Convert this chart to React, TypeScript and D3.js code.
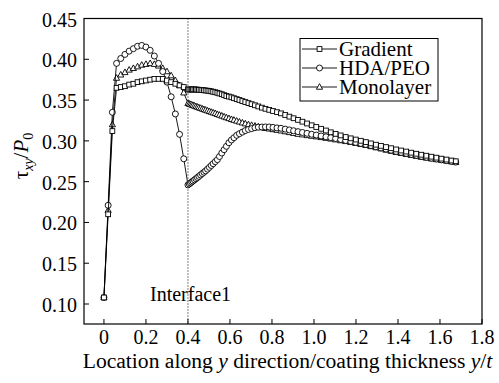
import React from 'react';
import * as d3 from 'd3';

// ---------- data ----------
const xInner = [0, 0.02, 0.04, 0.06, 0.08, 0.1, 0.12, 0.14, 0.16, 0.18, 0.2, 0.22, 0.24, 0.26, 0.28, 0.3, 0.32, 0.34, 0.36, 0.38];
const xOuter = [
  0.4, 0.406, 0.412, 0.418, 0.424, 0.431, 0.438, 0.445, 0.452, 0.46, 0.468, 0.476, 0.484, 0.493, 0.502, 0.511,
  0.52, 0.53, 0.54, 0.55, 0.561, 0.572, 0.583, 0.595, 0.607, 0.619, 0.632, 0.645, 0.659, 0.673, 0.688, 0.703,
  0.719, 0.735, 0.752, 0.769, 0.787, 0.805, 0.824, 0.843, 0.863, 0.883, 0.903, 0.924, 0.945, 0.967, 0.989, 1.011,
  1.034, 1.057, 1.08, 1.103, 1.127, 1.151, 1.175, 1.199, 1.223, 1.247, 1.271, 1.295, 1.319, 1.343, 1.367, 1.391,
  1.415, 1.439, 1.463, 1.487, 1.511, 1.535, 1.559, 1.583, 1.607, 1.631, 1.655, 1.675,
];

const gradientInner = [0.108, 0.21, 0.312, 0.365, 0.366, 0.367, 0.369, 0.37, 0.372, 0.373, 0.374, 0.375, 0.376, 0.376, 0.376, 0.374, 0.372, 0.37, 0.368, 0.366];
const gradientOuter = [
  0.363, 0.363, 0.363, 0.363, 0.363, 0.363, 0.363, 0.3628, 0.3626, 0.3624, 0.3622, 0.362, 0.3618, 0.3615, 0.3612, 0.3607,
  0.3602, 0.3596, 0.3589, 0.3581, 0.3572, 0.3561, 0.355, 0.3543, 0.3534, 0.3523, 0.3512, 0.3501, 0.3488, 0.3476, 0.3463, 0.345,
  0.3436, 0.3422, 0.3407, 0.3393, 0.338, 0.3366, 0.3352, 0.3337, 0.3317, 0.3297, 0.3277, 0.3257, 0.3235, 0.3213, 0.3191, 0.317,
  0.3148, 0.3127, 0.3105, 0.3086, 0.3067, 0.3047, 0.3031, 0.3016, 0.3001, 0.2985, 0.2969, 0.2953, 0.2939, 0.2924, 0.291, 0.2895,
  0.2882, 0.2869, 0.2855, 0.2842, 0.283, 0.2818, 0.2806, 0.2794, 0.2782, 0.2771, 0.2759, 0.275,
];

const hdaInner = [0.108, 0.221, 0.335, 0.395, 0.401, 0.406, 0.41, 0.413, 0.416, 0.417, 0.415, 0.411, 0.404, 0.395, 0.385, 0.372, 0.354, 0.333, 0.308, 0.278];
const hdaOuter = [
  0.246, 0.2472, 0.2484, 0.2496, 0.2508, 0.2522, 0.2536, 0.255, 0.2565, 0.2582, 0.2599, 0.2615, 0.2632, 0.2653, 0.2675, 0.2698,
  0.272, 0.2745, 0.277, 0.2808, 0.2851, 0.2892, 0.2933, 0.2977, 0.3011, 0.3038, 0.3068, 0.3088, 0.3107, 0.3126, 0.314, 0.315,
  0.3161, 0.3168, 0.317, 0.3171, 0.317, 0.3165, 0.3159, 0.3154, 0.3144, 0.3134, 0.3124, 0.3113, 0.3103, 0.3092, 0.3081, 0.3071,
  0.306, 0.305, 0.304, 0.3029, 0.3017, 0.3005, 0.2993, 0.2981, 0.2969, 0.2956, 0.2942, 0.2928, 0.2914, 0.2899, 0.2885, 0.287,
  0.2858, 0.2846, 0.2834, 0.2822, 0.281, 0.2799, 0.2788, 0.2778, 0.2767, 0.2758, 0.2748, 0.274,
];

const monoInner = [0.108, 0.215, 0.32, 0.377, 0.381, 0.384, 0.387, 0.389, 0.391, 0.393, 0.394, 0.395, 0.394, 0.392, 0.389, 0.385, 0.38, 0.374, 0.368, 0.359];
const monoOuter = [
  0.346, 0.3454, 0.3448, 0.3442, 0.3436, 0.3429, 0.3422, 0.3415, 0.3408, 0.3401, 0.3393, 0.3386, 0.3378, 0.337, 0.3362, 0.3353,
  0.3345, 0.3337, 0.3326, 0.3317, 0.3307, 0.3296, 0.3286, 0.3275, 0.3264, 0.3255, 0.3244, 0.3233, 0.3222, 0.3211, 0.32, 0.3192,
  0.3183, 0.3174, 0.3164, 0.3155, 0.3148, 0.314, 0.3132, 0.3124, 0.3114, 0.3104, 0.3094, 0.3083, 0.3076, 0.3067, 0.3059, 0.3052,
  0.3043, 0.3034, 0.3025, 0.3015, 0.3004, 0.2994, 0.2983, 0.2971, 0.2958, 0.2946, 0.2932, 0.2918, 0.2904, 0.2889, 0.2875, 0.286,
  0.2848, 0.2836, 0.2824, 0.2812, 0.2801, 0.2791, 0.2781, 0.2772, 0.2763, 0.2754, 0.2745, 0.2737,
];

const seriesNames = ['Gradient', 'HDA/PEO', 'Monolayer'];
const xTicks = [0, 0.2, 0.4, 0.6, 0.8, 1.0, 1.2, 1.4, 1.6, 1.8];
const xTickLabels = ['0', '0.2', '0.4', '0.6', '0.8', '1.0', '1.2', '1.4', '1.6', '1.8'];
const yTicks = [0.1, 0.15, 0.2, 0.25, 0.3, 0.35, 0.4, 0.45];
const yTickLabels = ['0.10', '0.15', '0.20', '0.25', '0.30', '0.35', '0.40', '0.45'];
const interfaceX = 0.4;
const interfaceLabel = 'Interface1';

// ---------- layout ----------
const W = 499;
const H = 383;
const L = 84, R = 482, T = 18.5, B = 324;
const SERIF = 'Liberation Serif';
const txt = { fontFamily: `'${SERIF}'` } as React.CSSProperties;

const x = d3.scaleLinear().domain([-0.095, 1.8]).range([L, R]);
const y = d3.scaleLinear().domain([0.0755, 0.45]).range([B, T]);

type Shape = 'square' | 'circle' | 'triangle';

function Marker({ cx, cy, shape }: { cx: number; cy: number; shape: Shape }) {
  const common = { fill: '#fff', stroke: '#000', strokeWidth: 0.9 };
  if (shape === 'square') {
    const s = 4.8;
    return <rect x={cx - s / 2} y={cy - s / 2} width={s} height={s} {...common} />;
  }
  if (shape === 'circle') {
    return <circle cx={cx} cy={cy} r={3} {...common} />;
  }
  const w = 6.2, h = 5.6;
  const p = `M${cx},${cy - h * 0.6}L${cx + w / 2},${cy + h * 0.4}L${cx - w / 2},${cy + h * 0.4}Z`;
  return <path d={p} {...common} />;
}

function T_({ children, ...rest }: any) {
  return (
    <text fontFamily={SERIF} fill="#000" style={txt} {...rest}>
      {children}
    </text>
  );
}

export default function App() {
  const xs = [...xInner, ...xOuter];
  const series: { name: string; shape: Shape; values: number[] }[] = [
    { name: seriesNames[2], shape: 'triangle', values: [...monoInner, ...monoOuter] },
    { name: seriesNames[1], shape: 'circle', values: [...hdaInner, ...hdaOuter] },
    { name: seriesNames[0], shape: 'square', values: [...gradientInner, ...gradientOuter] },
  ];
  const line = d3
    .line<[number, number]>()
    .x((d) => x(d[0]))
    .y((d) => y(d[1]));

  const legend = [
    { name: seriesNames[0], shape: 'square' as Shape },
    { name: seriesNames[1], shape: 'circle' as Shape },
    { name: seriesNames[2], shape: 'triangle' as Shape },
  ];
  const lgX = 300, lgY = 38.5, lgW = 138, lgH = 62.5;

  return (
    <svg width={W} height={H} fontFamily={SERIF} style={{ position: 'absolute', left: 0, top: 0 }}>
      <rect x={0} y={0} width={W} height={H} fill="#fff" />
      {/* interface line */}
      <line x1={x(interfaceX)} x2={x(interfaceX)} y1={T} y2={B} stroke="#000" strokeWidth={1} strokeDasharray="1,2" />
      <T_ x={150} y={300.5} fontSize={20}>{interfaceLabel}</T_>

      {/* series */}
      {series.map((s) => (
        <g key={s.name}>
          <path d={line(xs.map((xv, i) => [xv, s.values[i]] as [number, number])) || ''} fill="none" stroke="#000" strokeWidth={0.9} />
          {xs.map((xv, i) => (
            <Marker key={i} cx={x(xv)} cy={y(s.values[i])} shape={s.shape} />
          ))}
        </g>
      ))}

      {/* frame */}
      <rect x={L} y={T} width={R - L} height={B - T} fill="none" stroke="#000" strokeWidth={1.2} />

      {/* x ticks */}
      {xTicks.map((t, i) => (
        <g key={t}>
          <line x1={x(t)} x2={x(t)} y1={B} y2={B - 5} stroke="#000" strokeWidth={1} />
          <T_ x={x(t)} y={343.5} fontSize={20} textAnchor="middle">{xTickLabels[i]}</T_>
        </g>
      ))}
      {/* y ticks */}
      {yTicks.map((t, i) => (
        <g key={t}>
          <line x1={L} x2={L + 5} y1={y(t)} y2={y(t)} stroke="#000" strokeWidth={1} />
          <T_ x={77} y={y(t) + 8} fontSize={20} textAnchor="end">{yTickLabels[i]}</T_>
        </g>
      ))}

      {/* axis titles */}
      <T_ x={287.5} y={367.5} fontSize={21.6} textAnchor="middle">
        Location along <tspan fontStyle="italic">y</tspan> direction/coating thickness <tspan fontStyle="italic">y</tspan>/<tspan fontStyle="italic">t</tspan>
      </T_>
      <T_ transform="translate(28,156) rotate(-90)" fontSize={21} textAnchor="middle">
        τ<tspan fontSize={14} fontStyle="italic" dy={5}>xy</tspan><tspan dy={-5}>/</tspan><tspan fontStyle="italic">P</tspan><tspan fontSize={14} dy={5}>0</tspan>
      </T_>

      {/* legend */}
      <rect x={lgX} y={lgY} width={lgW} height={lgH} fill="#fff" stroke="#000" strokeWidth={1} />
      {legend.map((l, i) => {
        const cy = 49 + i * 19;
        return (
          <g key={l.name}>
            <line x1={302} x2={337} y1={cy} y2={cy} stroke="#000" strokeWidth={0.9} />
            <Marker cx={319.5} cy={cy} shape={l.shape} />
            <T_ x={339} y={cy + 6.5} fontSize={21}>{l.name}</T_>
          </g>
        );
      })}
    </svg>
  );
}
